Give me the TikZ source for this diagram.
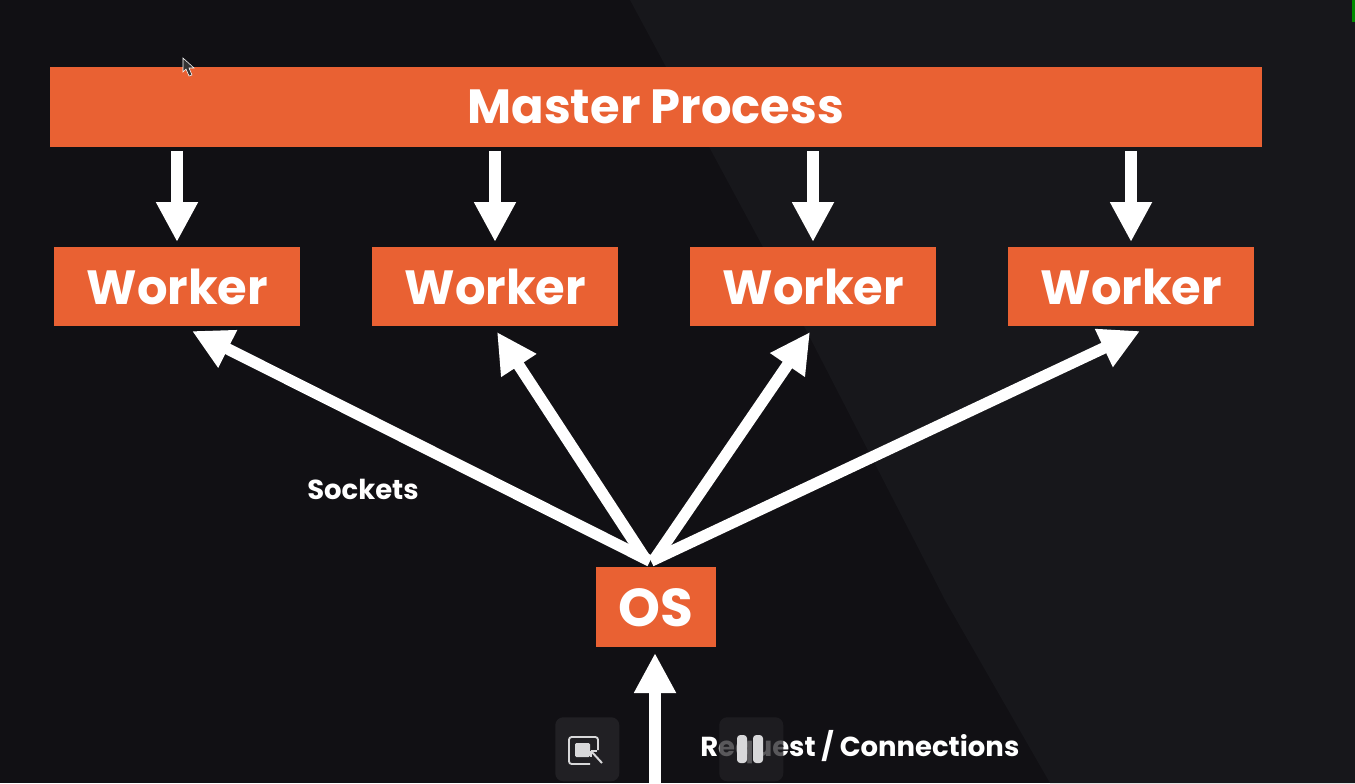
\documentclass[tikz,border=0pt]{standalone}
\usepackage{fontspec}
\setmainfont{Poppins}[UprightFont=* Bold,BoldFont=* Bold]
\usetikzlibrary{arrows.meta}
\definecolor{bgdark}{HTML}{111014}
\definecolor{bgpale}{HTML}{17171B}
\definecolor{boxorange}{HTML}{E96133}
\definecolor{btnbg}{HTML}{222125}
\definecolor{btnfg}{HTML}{D8D8DA}
\tikzset{
  box/.style={fill=boxorange,draw=none,inner sep=0pt,text=white,anchor=north west},
  big/.style={font=\fontsize{36}{36}\selectfont},
  mid/.style={font=\fontsize{36}{36}\selectfont},
  oslab/.style={font=\fontsize{40}{40}\selectfont},
  lab/.style={font=\fontsize{20.6}{22}\selectfont,text=white,inner sep=0pt},
  vert/.style={draw=white,line width=9pt,{-{Triangle[width=29.5pt,length=30pt]}}},
  diag/.style={draw=white,line width=8.6pt,{-{Triangle[width=29.5pt,length=30pt]}}},
  btn/.style={fill=btnbg,rounded corners=6pt,draw=none,minimum size=48pt,inner sep=0pt,anchor=north west}
}
\begin{document}
\begin{tikzpicture}[x=0.75pt,y=-0.75pt]
\useasboundingbox (0,0) rectangle (1355,783);
\fill[bgdark] (0,0) rectangle (1355,783);
\fill[bgpale] (630,0) -- (1355,0) -- (1355,783) -- (1050,783) -- (945,600) -- (770,260) -- cycle;
\fill[green!55!black] (1352,0) rectangle (1355,22);

\node[box,big,minimum width=1212*0.75pt,minimum height=80*0.75pt] (master) at (49.5,67) {Master Process};
\node[box,mid,minimum width=246*0.75pt,minimum height=79*0.75pt] (w1) at (54,247) {Worker};
\node[box,mid,minimum width=246*0.75pt,minimum height=79*0.75pt] (w2) at (372,247) {Worker};
\node[box,mid,minimum width=246*0.75pt,minimum height=79*0.75pt] (w3) at (690,247) {Worker};
\node[box,mid,minimum width=246*0.75pt,minimum height=79*0.75pt] (w4) at (1008,247) {Worker};
\node[box,oslab,minimum width=120*0.75pt,minimum height=80*0.75pt] (os) at (596,567) {OS};

\coordinate (m1) at (177,151); \coordinate (e1) at (177,242);
\coordinate (m2) at (495,151); \coordinate (e2) at (495,242);
\coordinate (m3) at (813,151); \coordinate (e3) at (813,242);
\coordinate (m4) at (1131,151); \coordinate (e4) at (1131,242);
\draw[vert] (m1) -- (e1);
\draw[vert] (m2) -- (e2);
\draw[vert] (m3) -- (e3);
\draw[vert] (m4) -- (e4);

\coordinate (o1) at (650,561); \coordinate (t1) at (192,331);
\coordinate (o2) at (646,560); \coordinate (t2) at (497,332);
\coordinate (o3) at (654,560); \coordinate (t3) at (810,332);
\coordinate (o4) at (651,561); \coordinate (t4) at (1140,331);
\draw[diag] (o1) -- (t1);
\draw[diag] (o2) -- (t2);
\draw[diag] (o3) -- (t3);
\draw[diag] (o4) -- (t4);

\coordinate (in) at (655,783); \coordinate (t5) at (655,653);
\draw[vert] (in) -- (t5);

\node[lab,anchor=west] (sock) at (307,489) {Sockets};
\node[lab,anchor=west] (req) at (700,747) {Request / Connections};

\node[btn,opacity=0.95] (b1) at (555,717) {};
\node[btn,opacity=0.75] (b2) at (719,717) {};
\draw[btnfg,line width=1.4pt,rounded corners=2pt] (598,750) -- (598,737) -- (569,737) -- (569,764) -- (590,764);
\fill[btnfg,rounded corners=1pt] (575,743) rectangle (590,757);
\draw[btnfg,line width=1.5pt] (591,751) -- (602,763);
\draw[btnfg,line width=1.5pt] (591,751) -- (597,751) (591,751) -- (591,757);
\fill[btnfg,rounded corners=2.5pt] (737,735) rectangle (747,763);
\fill[btnfg,rounded corners=2.5pt] (753,735) rectangle (763,763);

\fill[black!80,draw=white!70,line width=.4pt] (183,58) -- (183,72) -- (186,69) -- (189,76) -- (192,75) -- (189,68) -- (194,68) -- cycle;
\end{tikzpicture}
\end{document}
